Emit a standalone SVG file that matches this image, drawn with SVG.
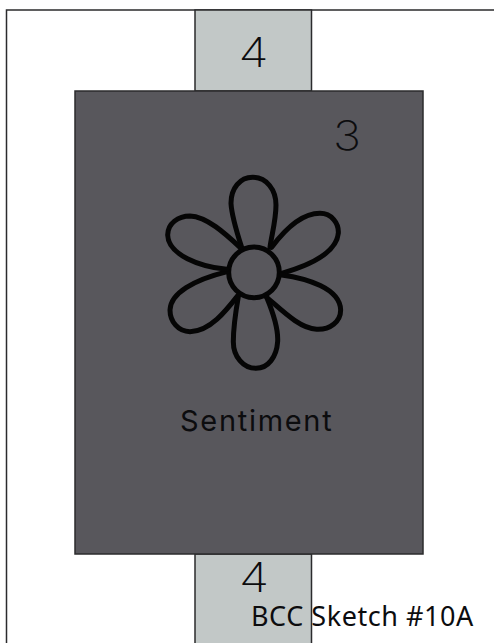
<svg xmlns="http://www.w3.org/2000/svg" width="494" height="643" viewBox="0 0 494 643">
<style>
.box{stroke:#2b2b2d;stroke-width:1.5}
.tab{fill:#c2c8c7}
.main{fill:#58575c}
.num{font-family:"Inter","Liberation Sans",sans-serif;font-weight:250;font-size:41px;fill:#0c0c0e;text-anchor:middle}
.lbl{font-family:"Inter","Liberation Sans",sans-serif;font-weight:400;fill:#0c0c0e}
.note{font-family:"Noto Sans","Liberation Sans",sans-serif;font-weight:400;fill:#0c0c0e}
.flower{fill:none;stroke:#050505;stroke-width:15;stroke-linecap:round;stroke-linejoin:round}
</style>
<rect width="494" height="643" fill="#fff"/>
<g id="frame"><path d="M6.5 643V10H494" fill="none" class="box"/></g>
<g id="tab-top"><rect class="tab box" x="195" y="10" width="116.5" height="81"/><text class="num" transform="translate(253.5 67) scale(1.2 1)">4</text></g>
<g id="tab-bottom"><rect class="tab box" x="195" y="554" width="116.5" height="95"/><text class="num" transform="translate(254 592) scale(1.2 1)">4</text></g>
<g id="main"><rect class="main box" x="75" y="91" width="348" height="463"/><text class="num" transform="translate(347 150) scale(1.15 1)">3</text>
<g id="flower" transform="translate(150 160) scale(.3333)">
<circle class="flower" cx="312" cy="337" r="76"/>
<path class="flower" d="M275 262C255 200 245 165 243 130C243 85 270 52 308 52C350 52 378 90 378 135C378 180 365 225 360 262"/>
<path class="flower" d="M365 262C400 215 450 160 510 160C545 160 567 190 565 220C560 270 500 310 395 340"/>
<path class="flower" d="M395 345C470 355 570 385 572 450C572 485 540 510 500 508C450 505 400 455 350 412"/>
<path class="flower" d="M350 412C370 460 385 510 383 545C380 590 355 625 318 625C280 625 250 590 250 545C250 500 258 450 265 410"/>
<path class="flower" d="M265 405C230 450 180 515 120 515C85 515 60 485 60 450C62 400 130 360 232 335"/>
<path class="flower" d="M230 328C150 320 55 285 53 225C53 190 85 168 120 168C170 170 225 220 270 262"/>
</g>
<text class="lbl" x="180" y="431" font-size="29" letter-spacing="1.7">Sentiment</text></g>
<text class="note" x="251" y="626" font-size="27" letter-spacing=".55">BCC Sketch #10A</text>
</svg>
